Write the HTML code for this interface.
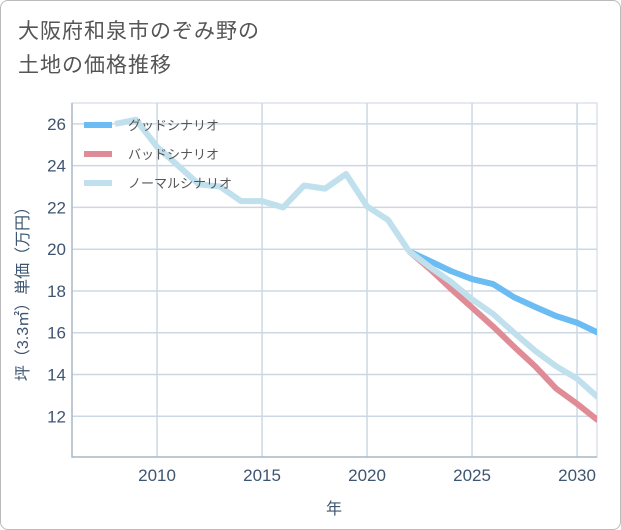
<!DOCTYPE html>
<html><head><meta charset="utf-8"><style>
body{margin:0;background:#fff;}
#wrap{position:relative;width:619px;height:528px;border:1px solid #bbb;border-radius:8px;overflow:hidden;font-family:"Liberation Sans","Noto Sans CJK JP",sans-serif;}
#title{position:absolute;left:17px;top:14px;font-size:21px;line-height:34px;color:#555;letter-spacing:1px;}
</style></head><body>
<div id="wrap">
<div id="title">大阪府和泉市のぞみ野の<br>土地の価格推移</div>
<svg id="chart" width="621" height="530" style="position:absolute;left:-1px;top:-1px"></svg>
</div>
<script>
const yearsPast=[2008,2009,2010,2011,2012,2013,2014,2015,2016,2017,2018,2019,2020,2021,2022];
const normalPast=[26.0,26.2,24.9,24.0,23.1,23.0,22.3,22.3,22.0,23.05,22.9,23.6,22.05,21.4,19.9];
const yearsFuture=[2022,2023,2024,2025,2026,2027,2028,2029,2030,2031];
const goodVals=[19.9,19.43,18.95,18.57,18.33,17.7,17.24,16.8,16.48,16.0];
const badVals=[19.9,19.05,18.1,17.2,16.3,15.33,14.4,13.33,12.6,11.8];
const normalVals=[19.9,19.14,18.43,17.6,16.9,16.0,15.14,14.4,13.8,12.9];
const xTicks=[2010,2015,2020,2025,2030];
const yTicks=[12,14,16,18,20,22,24,26];
const legendLabels=["グッドシナリオ","バッドシナリオ","ノーマルシナリオ"];
const L=72,R=597,T=103,B=457,x0=2005.95,x1=2030.95,y0=10.05,y1=27;
const TC='#3d5570';
const X=v=>L+(v-x0)/(x1-x0)*(R-L);
const Y=v=>B-(v-y0)/(y1-y0)*(B-T);
const svg=document.getElementById('chart');const NS="http://www.w3.org/2000/svg";
function mk(t,a,p){const e=document.createElementNS(NS,t);for(const k in a)e.setAttribute(k,a[k]);(p||svg).appendChild(e);return e;}
let e=mk('rect',{x:L,y:T,width:R-L,height:B-T,fill:'none',stroke:'#ccd6e0'});


xTicks.forEach(v=>{let g=mk('line',{x1:X(v),x2:X(v),y1:T,y2:B,stroke:'#cbd8e4','stroke-width':1.5});


let t=mk('text',{x:X(v),y:481,'text-anchor':'middle','font-size':17,fill:TC});t.textContent=v;

});
yTicks.forEach(v=>{let g=mk('line',{x1:L,x2:R,y1:Y(v),y2:Y(v),stroke:'#cbd8e4','stroke-width':1.5});


let t=mk('text',{x:66,y:Y(v)+6,'text-anchor':'end','font-size':17,fill:TC});t.textContent=v;

});
let ax=mk('polyline',{points:`${L},${T} ${L},${B} ${R},${B}`,fill:'none',stroke:'#a9b7c6','stroke-width':1.5});


let xt=mk('text',{x:334,y:514,'text-anchor':'middle','font-size':16,fill:TC});xt.textContent='年';


let yt=mk('text',{x:0,y:0,'text-anchor':'middle','font-size':16,fill:TC,transform:'translate(28,290) rotate(-90)'});yt.textContent='坪（3.3㎡）単価（万円）';


const cp=mk('clipPath',{id:'cp'});mk('rect',{x:L,y:T,width:R-L,height:B-T},cp);
function line(xs,ys,c,n){const p=mk('polyline',{points:xs.map((x,i)=>X(x)+','+Y(ys[i])).join(' '),fill:'none',stroke:c,'stroke-width':6,'stroke-linejoin':'round','clip-path':'url(#cp)'});

}
line(yearsFuture,goodVals,'#6bbcf2','good-scenario-line');
line(yearsFuture,badVals,'#e08c96','bad-scenario-line');
line(yearsFuture,normalVals,'#bfe0ec','normal-scenario-line-future');
line(yearsPast,normalPast,'#bfe0ec','normal-scenario-line-past');
const lc=['#6bbcf2','#e08c96','#bfe0ec'];
legendLabels.forEach((s,i)=>{const y=125+i*29;
let l=mk('line',{x1:84,x2:112,y1:y,y2:y,stroke:lc[i],'stroke-width':6});


let t=mk('text',{x:128,y:y+5,'font-size':13,fill:'#555'});t.textContent=s;

});
</script>
</body></html>
